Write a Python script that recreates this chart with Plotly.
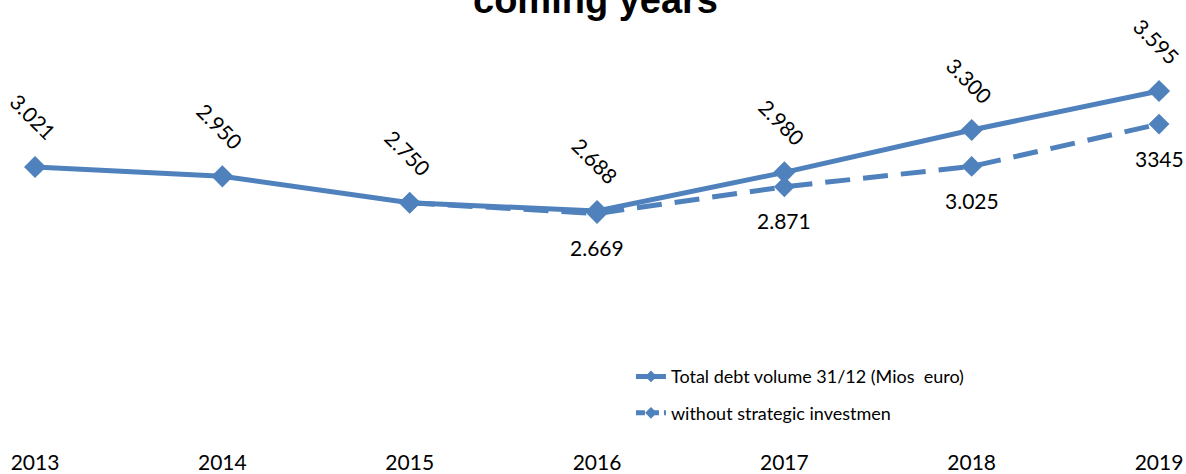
import plotly.graph_objects as go

years = [2013, 2014, 2015, 2016, 2017, 2018, 2019]
total_debt = [3021, 2950, 2750, 2688, 2980, 3300, 3595]
total_labels = ["3.021", "2.950", "2.750", "2.688", "2.980", "3.300", "3.595"]
without_strategic = [None, None, 2750, 2669, 2871, 3025, 3345]
without_labels = [None, None, None, "2.669", "2.871", "3.025", "3345"]
year_labels = ["2013", "2014", "2015", "2016", "2017", "2018", "2019"]
series_names = ["Total debt volume 31/12 (Mios  euro)", "without strategic investmen"]

COLOR = "#4F81BD"
FONT = "Lato"
DASH = "25px,13px"

fig = go.Figure()
fig.add_trace(go.Scatter(
    x=years, y=total_debt, mode="lines+markers", name=series_names[0],
    line=dict(color=COLOR, width=5),
    marker=dict(symbol="diamond", size=17, color=COLOR),
    cliponaxis=False, showlegend=False, hoverinfo="skip",
))
fig.add_trace(go.Scatter(
    x=years, y=without_strategic, mode="lines+markers", name=series_names[1],
    line=dict(color=COLOR, width=5, dash=DASH),
    marker=dict(symbol="diamond", size=16, color=COLOR),
    cliponaxis=False, showlegend=False, hoverinfo="skip",
))
# legend-only entries (smaller marker like the original legend)
fig.add_trace(go.Scatter(
    x=[None], y=[None], mode="lines+markers", name=series_names[0],
    line=dict(color=COLOR, width=5), marker=dict(symbol="diamond", size=9, color=COLOR),
    legendgroup="a",
))
fig.add_trace(go.Scatter(
    x=[None], y=[None], mode="lines+markers", name=series_names[1],
    line=dict(color=COLOR, width=5, dash="9px,5px"),
    marker=dict(symbol="diamond", size=9, color=COLOR),
    legendgroup="b",
))

annotations = []
for x, y, t in zip(years, total_debt, total_labels):
    annotations.append(dict(
        x=x, y=y, text=t, showarrow=False, textangle=45,
        xanchor="center", yanchor="middle", yshift=50, xshift=-2,
        font=dict(family=FONT, size=21, color="black"),
    ))
for x, y, t in zip(years, without_strategic, without_labels):
    if t is None:
        continue
    annotations.append(dict(
        x=x, y=y, text=t, showarrow=False,
        xanchor="center", yanchor="middle", yshift=-34,
        font=dict(family=FONT, size=21, color="black"),
    ))
annotations.append(dict(
    xref="paper", yref="paper", x=0.5025, y=1, text="<b>coming years</b>",
    showarrow=False, xanchor="center", yanchor="middle", yshift=0,
    font=dict(family="Liberation Sans", size=38, color="black"),
))

fig.update_layout(
    width=1186, height=474,
    margin=dict(l=0, r=0, t=0, b=29),
    paper_bgcolor="white", plot_bgcolor="white",
    showlegend=True,
    legend=dict(
        x=0.532, y=0.195, xanchor="left", yanchor="top",
        font=dict(family=FONT, size=18, color="black"),
        traceorder="grouped", tracegroupgap=10,
        bgcolor="rgba(0,0,0,0)",
    ),
    xaxis=dict(
        range=[2012.813, 2019.144], tickvals=years, ticktext=year_labels,
        showgrid=False, zeroline=False, showline=False, ticks="",
        ticklabelstandoff=3,
        tickfont=dict(family=FONT, size=21, color="black"),
    ),
    yaxis=dict(range=[919, 4283], visible=False),
    annotations=annotations,
)

fig.write_html("out.html", config={"displayModeBar": False})
